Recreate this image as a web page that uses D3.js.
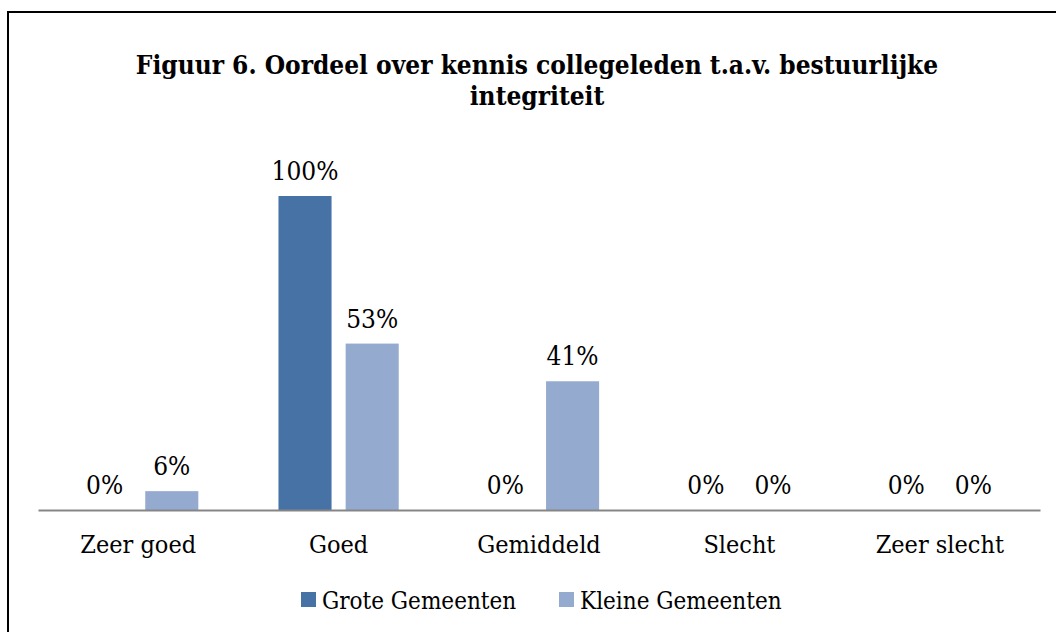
<!DOCTYPE html>
<html>
<head>
<meta charset="utf-8">
<script src="https://cdn.jsdelivr.net/npm/d3@7"></script>
<style>
  body { margin: 0; background: #fff; }
  svg text { font-family: "DejaVu Serif", serif; font-stretch: condensed; fill: #000; }
</style>
</head>
<body>
<div id="chart"></div>
<script>
// chart data
var categories = ["Zeer goed", "Goed", "Gemiddeld", "Slecht", "Zeer slecht"];
var seriesNames = ["Grote Gemeenten", "Kleine Gemeenten"];
var groteValues = [0, 1.00, 0, 0, 0];
var kleineValues = [0.06, 0.53, 0.41, 0, 0];
var seriesColors = ["#4672A6", "#95AACF"];
var titleLines = ["Figuur 6. Oordeel over kennis collegeleden t.a.v. bestuurlijke", "integriteit"];

var width = 1056, height = 632;

var svg = d3.select("#chart").append("svg")
      .attr("width", width)
      .attr("height", height);

// outer frame (right and bottom edges fall outside the picture)
svg.append("rect")
      .attr("x", 8).attr("y", 12)
      .attr("width", 1100).attr("height", 700)
      .attr("fill", "none")
      .attr("stroke", "#000")
      .attr("stroke-width", 2);

// title
svg.append("g").selectAll("text")
      .data(titleLines)
      .enter()
      .append("text")
      .attr("x", 537)
      .attr("y", (d, i) => 74 + i * 31)
      .attr("text-anchor", "middle")
      .style("font-size", "26px")
      .style("font-weight", "bold")
      .text(d => d);

var rows = categories.map((c, i) => ({ cat: c, values: [groteValues[i], kleineValues[i]] }));

var x0 = d3.scaleBand()
      .domain(categories)
      .range([38, 1040])
      .paddingInner(0.4)
      .paddingOuter(0.2);

var x1 = d3.scaleBand()
      .domain(seriesNames)
      .range([0, x0.bandwidth()])
      .paddingInner(0.21);

var y = d3.scaleLinear()
      .domain([0, 1])
      .range([510, 196]);

// bars
var groups = svg.append("g").selectAll("g")
      .data(rows)
      .enter()
      .append("g")
      .attr("transform", d => "translate(" + x0(d.cat) + ",0)");

groups.selectAll("rect")
      .data(d => d.values.map((v, i) => ({ name: seriesNames[i], value: v, idx: i })))
      .enter()
      .append("rect")
      .attr("x", d => x1(d.name))
      .attr("y", d => y(d.value))
      .attr("width", x1.bandwidth())
      .attr("height", d => y(0) - y(d.value))
      .attr("fill", d => seriesColors[d.idx]);

groups.selectAll("text")
      .data(d => d.values.map((v, i) => ({ name: seriesNames[i], value: v })))
      .enter()
      .append("text")
      .attr("x", d => x1(d.name) + x1.bandwidth() / 2)
      .attr("y", d => y(d.value) - 16)
      .attr("text-anchor", "middle")
      .style("font-size", "26px")
      .text(d => d3.format(".0%")(d.value));

// x axis
var xAxis = svg.append("g")
      .attr("transform", "translate(0," + y(0) + ")")
      .call(d3.axisBottom(x0).tickSize(0).tickPadding(0));

xAxis.select(".domain")
      .attr("stroke", "#868686")
      .attr("stroke-width", 2);

xAxis.selectAll(".tick text")
      .attr("dy", null)
      .attr("y", 43)
      .style("font-size", "25px")
      .style("font-family", null);

// legend
var legendX = [301, 559];
var legend = svg.append("g").selectAll("g")
      .data(seriesNames)
      .enter()
      .append("g")
      .attr("transform", (d, i) => "translate(" + legendX[i] + ",592)");

legend.append("rect")
      .attr("width", 15)
      .attr("height", 15)
      .attr("fill", (d, i) => seriesColors[i]);

legend.append("text")
      .attr("x", 21)
      .attr("y", 17)
      .style("font-size", "24px")
      .text(d => d);
</script>
</body>
</html>
